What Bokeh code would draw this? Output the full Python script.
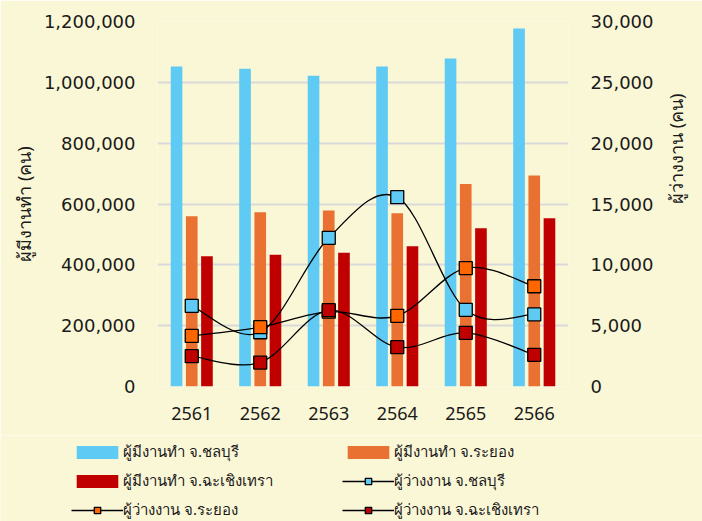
import math
import numpy as np
from bokeh.plotting import figure
from bokeh.models import (Range1d, LinearAxis, FixedTicker, NumeralTickFormatter,
                          Legend, LegendItem)
from bokeh.embed import file_html
from bokeh.resources import INLINE

# ---------------- data ----------------
years = ["2561", "2562", "2563", "2564", "2565", "2566"]
emp_chonburi = [1052000, 1045000, 1022000, 1052000, 1078000, 1177000]
emp_rayong = [560000, 573000, 579000, 570000, 666000, 694000]
emp_chacho = [428000, 433000, 440000, 461000, 520000, 553000]
unemp_chonburi = [6630, 4460, 12220, 15560, 6300, 5920]
unemp_rayong = [4160, 4880, 6150, 5810, 9730, 8240]
unemp_chacho = [2490, 1970, 6270, 3230, 4410, 2600]

left_ticks = [0, 200000, 400000, 600000, 800000, 1000000, 1200000]
right_ticks = [0, 5000, 10000, 15000, 20000, 25000, 30000]

labels = ["ผู้มีงานทำ จ.ชลบุรี", "ผู้มีงานทำ จ.ระยอง", "ผู้มีงานทำ จ.ฉะเชิงเทรา",
          "ผู้ว่างงาน จ.ชลบุรี", "ผู้ว่างงาน จ.ระยอง", "ผู้ว่างงาน จ.ฉะเชิงเทรา"]
left_title = "ผู้มีงานทำ (คน)"
right_title = "ผู้ว่างงาน (คน)"

# ---------------- style ----------------
BG = "#FAF7D7"
BLUE = "#5FCAF3"
ORANGE = "#E97132"
RED = "#C00000"
ORANGE_M = "#FF6600"
TXT = "#1A1A1A"
FONT = "Noto Sans"
NUMFONT = "DejaVu Sans"

W = 702
H_MAIN = 435
H_LEG = 521 - H_MAIN

p = figure(width=W, height=H_MAIN, output_backend="svg", toolbar_location=None,
           x_range=Range1d(-0.5, 5.5), y_range=Range1d(0, 1200000),
           min_border_left=157, min_border_right=127, min_border_top=21,
           min_border_bottom=H_MAIN - 386)
p.background_fill_color = BG
p.border_fill_color = BG
p.outline_line_color = None
p.extra_y_ranges = {"right": Range1d(0, 30000), "lab": Range1d(0, 1)}

xs = np.arange(len(years))


def smooth(vals):
    pts = [(float(a), float(b)) for a, b in zip(xs, vals)]
    n = len(pts)
    out = {k: [] for k in ["x0", "y0", "x1", "y1", "cx0", "cy0", "cx1", "cy1"]}
    for i in range(n - 1):
        p0 = pts[i - 1] if i > 0 else pts[i]
        p1 = pts[i]
        p2 = pts[i + 1]
        p3 = pts[i + 2] if i + 2 < n else pts[i + 1]
        out["x0"].append(p1[0]); out["y0"].append(p1[1])
        out["x1"].append(p2[0]); out["y1"].append(p2[1])
        out["cx0"].append(p1[0] + (p2[0] - p0[0]) / 6)
        out["cy0"].append(p1[1] + (p2[1] - p0[1]) / 6)
        out["cx1"].append(p2[0] - (p3[0] - p1[0]) / 6)
        out["cy1"].append(p2[1] - (p3[1] - p1[1]) / 6)
    return out


def draw_series(fig):
    bars = [
        fig.vbar(x=xs - 0.222, top=emp_chonburi, width=0.17, fill_color=BLUE, line_color=None),
        fig.vbar(x=xs, top=emp_rayong, width=0.17, fill_color=ORANGE, line_color=None),
        fig.vbar(x=xs + 0.222, top=emp_chacho, width=0.17, fill_color=RED, line_color=None),
    ]
    lines = []
    for vals, fc in [(unemp_chonburi, BLUE), (unemp_rayong, ORANGE_M), (unemp_chacho, RED)]:
        d = smooth(vals)
        lr = fig.bezier(y_range_name="right", line_color="black", line_width=1.3, **d)
        sr = fig.scatter(x=xs, y=vals, y_range_name="right", marker="square", size=13,
                         fill_color=fc, line_color="black", line_width=1.3)
        lines.append([lr, sr])
    return bars, lines


draw_series(p)

# axes
p.yaxis.ticker = FixedTicker(ticks=left_ticks)
p.yaxis.formatter = NumeralTickFormatter(format="0,0")
p.yaxis.axis_label = left_title

rax = LinearAxis(y_range_name="right", ticker=FixedTicker(ticks=right_ticks),
                 formatter=NumeralTickFormatter(format="0,0"))
p.add_layout(rax, "right")

# outer axis carrying only the right title (reads bottom-to-top)
tax = LinearAxis(y_range_name="lab", ticker=FixedTicker(ticks=[]), bounds=(0, 0.729),
                 axis_label=right_title)
if "axis_label_orientation" in LinearAxis.properties():
    tax.axis_label_orientation = math.pi / 2
p.add_layout(tax, "right")

p.xaxis.ticker = FixedTicker(ticks=list(range(len(years))))
p.xaxis.major_label_overrides = {i: y for i, y in enumerate(years)}

for ax in [p.xaxis[0], p.yaxis[0], rax, tax]:
    ax.axis_line_color = None
    ax.major_tick_line_color = None
    ax.minor_tick_line_color = None
    ax.major_tick_out = 0
    ax.minor_tick_out = 0
    ax.major_tick_in = 0
    ax.minor_tick_in = 0
    ax.major_label_text_font = NUMFONT
    ax.major_label_text_font_size = "18px"
    ax.major_label_text_color = TXT
    ax.axis_label_text_font = FONT
    ax.axis_label_text_font_size = "18px"
    ax.axis_label_text_font_style = "normal"
    ax.axis_label_text_color = TXT
    ax.major_label_standoff = 20
p.xaxis.major_label_text_font = FONT
p.xaxis.major_label_standoff = 20
p.yaxis.major_label_standoff = 22
p.yaxis.axis_label_standoff = 5
tax.major_label_standoff = 0
tax.major_label_text_font_size = "0px"
tax.axis_label_standoff = 19

p.xgrid.grid_line_color = None
p.ygrid.ticker = FixedTicker(ticks=left_ticks)
p.ygrid.grid_line_color = "#D9D9D9"
p.ygrid.grid_line_width = 2

# ---------------- legend strip (separate root, series kept out of view) ----------------
q = figure(width=W, height=H_LEG, output_backend="svg", toolbar_location=None,
           x_axis_type=None, y_axis_type=None,
           x_range=Range1d(-0.5, 5.5), y_range=Range1d(1e15, 2e15),
           min_border_left=0, min_border_right=0, min_border_top=0,
           min_border_bottom=0)
q.background_fill_color = BG
q.border_fill_color = BG
q.outline_line_color = None
q.xgrid.visible = False
q.ygrid.visible = False
q.extra_y_ranges = {"right": Range1d(1e15, 2e15)}

lbars, llines = draw_series(q)

items = [
    LegendItem(label=labels[0], renderers=[lbars[0]]),
    LegendItem(label=labels[1], renderers=[lbars[1]]),
    LegendItem(label=labels[2], renderers=[lbars[2]]),
    LegendItem(label=labels[3], renderers=llines[0]),
    LegendItem(label=labels[4], renderers=llines[1]),
    LegendItem(label=labels[5], renderers=llines[2]),
]
leg = Legend(items=items, location=(71, -1), orientation="horizontal", ncols=2,
             glyph_width=52, glyph_height=16, label_height=25, label_width=215,
             label_standoff=0, spacing=4, padding=0, margin=0,
             label_text_font=FONT, label_text_font_size="15px", label_text_color=TXT,
             background_fill_alpha=0, border_line_color=None)
q.add_layout(leg, "center")

open("out.html", "w").write(file_html([p, q], INLINE))
